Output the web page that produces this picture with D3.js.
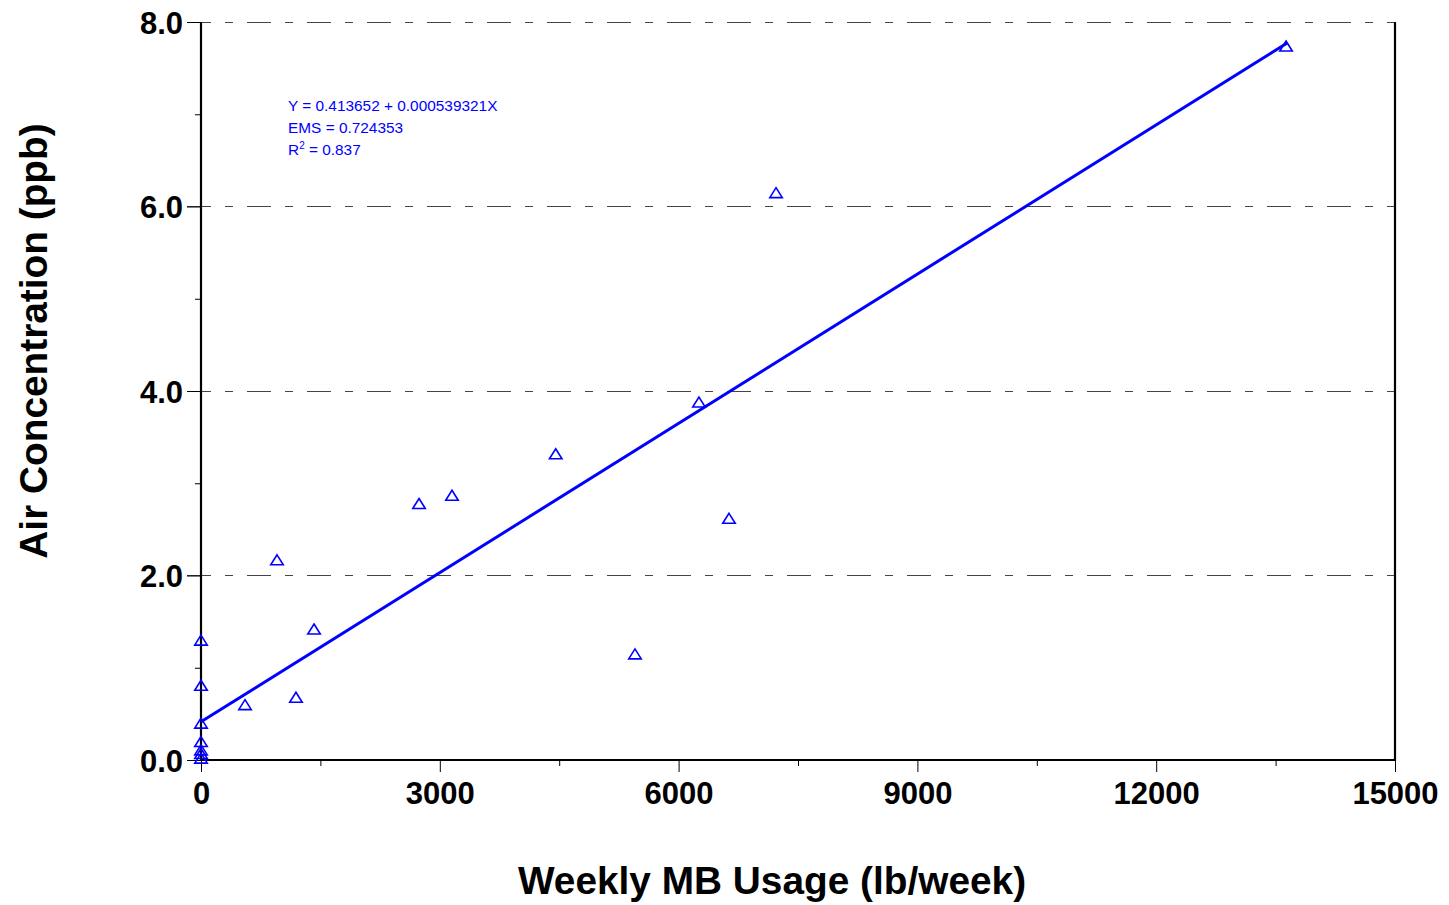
<!DOCTYPE html>
<html>
<head>
<meta charset="utf-8">
<script src="https://cdn.jsdelivr.net/npm/d3@7"></script>
<style>
  html, body { margin: 0; padding: 0; background: #fff; }
  svg { display: block; }
  text { font-family: "Liberation Sans", Arial, sans-serif; }
</style>
</head>
<body>
<script>
// ---- data ----
const usage = [13631, 7224, 6256, 4456, 6633, 5452, 3153, 2739, 955, 1420, 1193, 553,
               0, 0, 0, 0, 0, 0, 0];
const concentration = [7.74, 6.15, 3.88, 3.32, 2.62, 1.15, 2.87, 2.78, 2.17, 1.42, 0.68, 0.60,
                       1.30, 0.81, 0.40, 0.20, 0.11, 0.07, 0.02];
const fitIntercept = 0.413652;
const fitSlope = 0.000539321;
const fitRange = [0, 13650];
const xTicks = [0, 3000, 6000, 9000, 12000, 15000];
const xMinorTicks = [1500, 4500, 7500, 10500, 13500];
const yTicks = [0, 2, 4, 6, 8];
const yMinorTicks = [1, 3, 5, 7];
const statsLines = ["Y = 0.413652 + 0.000539321X", "EMS = 0.724353", "R2 = 0.837"];
const xTitle = "Weekly MB Usage (lb/week)";
const yTitle = "Air Concentration (ppb)";

(function () {
const W = 1449, H = 905;
const pL = 201, pR = 1395, pT = 22, pB = 760;

const svg = d3.select("body").append("svg").attr("width", W).attr("height", H);

const x = d3.scaleLinear().domain([0, 15000]).range([pL, pR]);
const y = d3.scaleLinear().domain([0, 8]).range([pB, pT]);

// grid (dash-dot)
svg.append("g").selectAll("line").data(yTicks.filter(d => d > 0)).join("line")
  .attr("x1", pL - 14).attr("x2", pR)
  .attr("y1", d => y(d)).attr("y2", d => y(d))
  .attr("stroke", "#444").attr("stroke-width", 1)
  .attr("stroke-dasharray", "24,14,8,14")
  .attr("shape-rendering", "crispEdges");

// x axis
const xAxis = svg.append("g").attr("transform", `translate(0,${pB})`)
  .call(d3.axisBottom(x).tickValues(xTicks).tickFormat(d3.format("d")).tickSize(12).tickSizeOuter(0));
xAxis.select(".domain").remove();
xAxis.selectAll(".tick line").attr("stroke", "#000").attr("stroke-width", 1);
xAxis.selectAll(".tick text").attr("font-size", 31).attr("font-weight", "bold")
  .attr("fill", "#000").attr("y", 22).attr("dy", "0.72em");
svg.append("g").attr("transform", `translate(0,${pB})`)
  .call(d3.axisBottom(x).tickValues(xMinorTicks).tickFormat("").tickSize(6).tickSizeOuter(0))
  .call(g => g.select(".domain").remove());

// y axis
const yAxis = svg.append("g").attr("transform", `translate(${pL},0)`)
  .call(d3.axisLeft(y).tickValues(yTicks).tickFormat(d3.format(".1f")).tickSize(14).tickSizeOuter(0));
yAxis.select(".domain").remove();
yAxis.selectAll(".tick line").attr("stroke", "#000").attr("stroke-width", 1);
yAxis.selectAll(".tick text").attr("font-size", 31).attr("font-weight", "bold")
  .attr("fill", "#000").attr("x", -18).attr("dy", "0.36em");
svg.append("g").attr("transform", `translate(${pL},0)`)
  .call(d3.axisLeft(y).tickValues(yMinorTicks).tickFormat("").tickSize(6).tickSizeOuter(0))
  .call(g => g.select(".domain").remove());

// axis frame lines
svg.append("line").attr("x1", pL).attr("x2", pL).attr("y1", pT).attr("y2", pB + 1)
  .attr("stroke", "#000").attr("stroke-width", 2.2);
svg.append("line").attr("x1", pL - 1).attr("x2", pR + 1).attr("y1", pB).attr("y2", pB)
  .attr("stroke", "#000").attr("stroke-width", 2.2);
svg.append("line").attr("x1", pR).attr("x2", pR).attr("y1", pT).attr("y2", pB + 1)
  .attr("stroke", "#000").attr("stroke-width", 2.2);

// regression line
svg.append("line")
  .attr("x1", x(fitRange[0])).attr("y1", y(fitIntercept + fitSlope * fitRange[0]))
  .attr("x2", x(fitRange[1])).attr("y2", y(fitIntercept + fitSlope * fitRange[1]))
  .attr("stroke", "#0000ff").attr("stroke-width", 3);

// points: open triangles
const pts = usage.map((u, i) => ({ u, c: concentration[i] }));
const tw = 12.5, th = 10;
svg.append("g").selectAll("path").data(pts).join("path")
  .attr("d", d => {
    const cx = x(d.u), cy = y(d.c);
    return `M${cx},${cy - th / 2}L${cx + tw / 2},${cy + th / 2}L${cx - tw / 2},${cy + th / 2}Z`;
  })
  .attr("fill", "none").attr("stroke", "#0000ff").attr("stroke-width", 1.6);

// stats text
const st = svg.append("g").attr("fill", "#0000ff").attr("font-size", 15.4);
st.append("text").attr("x", 288).attr("y", 111).text(statsLines[0]);
st.append("text").attr("x", 288).attr("y", 133).text(statsLines[1]);
const r2 = st.append("text").attr("x", 288).attr("y", 155);
r2.append("tspan").text("R");
r2.append("tspan").attr("font-size", 10).attr("dy", -6).text("2");
r2.append("tspan").attr("dy", 6).text(" = 0.837");

// axis titles
svg.append("text").attr("x", 772).attr("y", 894)
  .attr("text-anchor", "middle").attr("font-size", 38.8).attr("font-weight", "bold")
  .attr("fill", "#000").text(xTitle);
svg.append("text").attr("transform", `translate(47,341) rotate(-90)`)
  .attr("text-anchor", "middle").attr("font-size", 38.8).attr("font-weight", "bold")
  .attr("fill", "#000").text(yTitle);
})();
</script>
</body>
</html>
